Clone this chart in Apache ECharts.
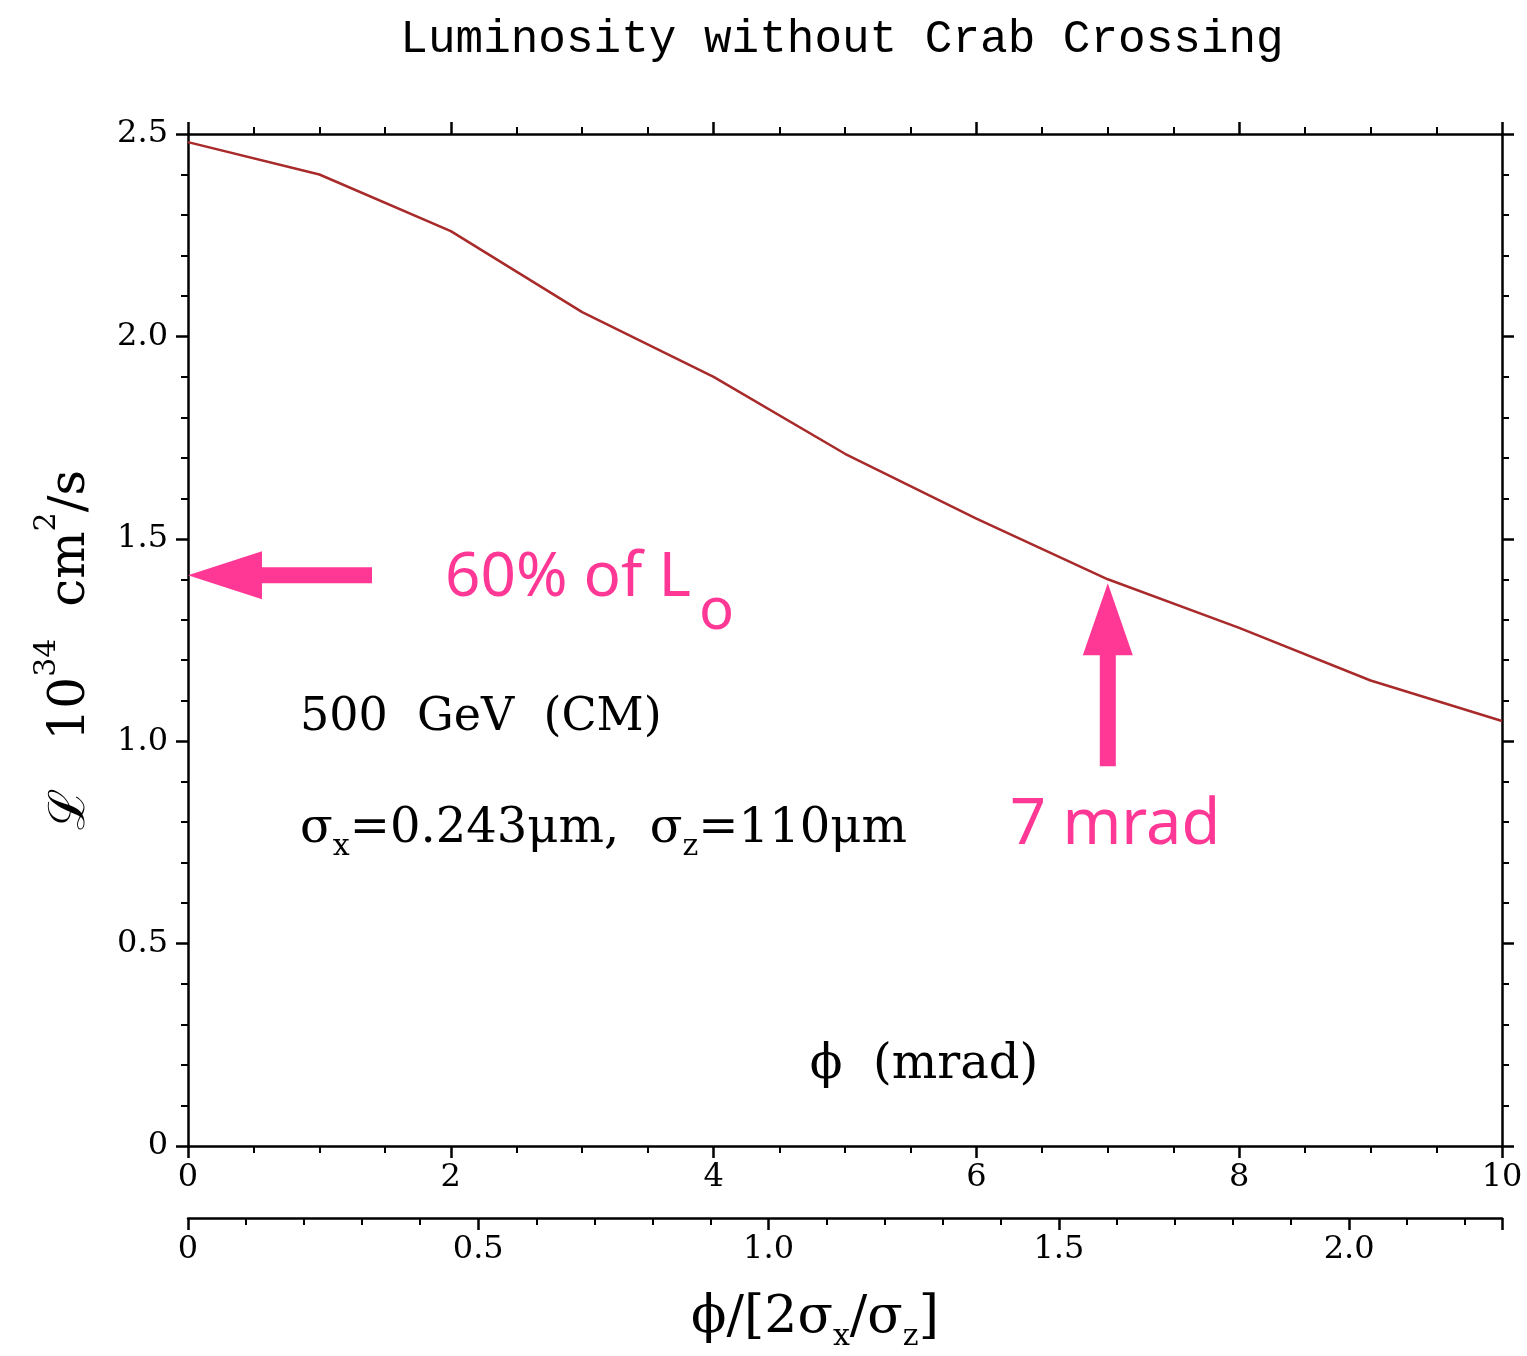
<!DOCTYPE html>
<html>
<head>
<meta charset="utf-8">
<script src="https://cdn.jsdelivr.net/npm/echarts@6/dist/echarts.min.js"></script>
<style>
html,body{margin:0;padding:0;background:#fff;}
#chart{width:1527px;height:1356px;}
</style>
</head>
<body>
<div id="chart"></div>
<script>
// ---- data ----
const phiMrad = [0, 1, 2, 3, 4, 5, 6, 7, 8, 9, 10];
const luminosity = [2.48, 2.40, 2.26, 2.06, 1.90, 1.71, 1.55, 1.40, 1.28, 1.15, 1.05];
const sigmaX = 0.243;   // um
const sigmaZ = 110;     // um
const arrowLeftPoint = [0, 1.41];   // "60% of L0" arrow tip
const arrowUpPoint = [7, 1.39];     // "7 mrad" arrow tip

// 2*sigma_x/sigma_z in mrad = 2*0.243/110*1000 = 4.418 mrad
const ratioAxisMax = 10 / (2 * sigmaX / sigmaZ * 1000);

const BLACK = '#000';
const PINK = '#ff3795';
const LINE = '#a82a2a';
const tickFont = 'DejaVu Serif';
const serif = 'DejaVu Serif';

function yFmt(v){ return v === 0 ? '0' : v.toFixed(1); }

const chart = echarts.init(document.getElementById('chart'));

const baseX = {
  type: 'value', min: 0, max: 10, interval: 2,
  axisLine: { show: true, onZero: false, lineStyle: { color: BLACK, width: 2.5 } },
  axisTick: { show: true, length: 12, lineStyle: { color: BLACK, width: 2.5 } },
  minorTick: { show: true, splitNumber: 4, length: 7, lineStyle: { color: BLACK, width: 2 } },
  splitLine: { show: false },
  minorSplitLine: { show: false }
};
const baseY = {
  type: 'value', min: 0, max: 2.5, interval: 0.5,
  axisLine: { show: true, onZero: false, lineStyle: { color: BLACK, width: 2.5 } },
  axisTick: { show: true, length: 12, lineStyle: { color: BLACK, width: 2.5 } },
  minorTick: { show: true, splitNumber: 5, length: 7, lineStyle: { color: BLACK, width: 2 } },
  splitLine: { show: false },
  minorSplitLine: { show: false }
};

const option = {
  backgroundColor: '#fff',
  animation: false,
  grid: { left: 188, right: 25, top: 134, bottom: 210, containLabel: false },
  xAxis: [
    Object.assign({}, baseX, {
      position: 'bottom',
      axisLabel: { show: true, color: BLACK, fontFamily: tickFont, fontSize: 32, margin: 16 }
    }),
    Object.assign({}, baseX, {
      position: 'top',
      axisLabel: { show: false }
    }),
    {
      type: 'value', position: 'bottom', offset: 72,
      min: 0, max: ratioAxisMax, interval: 0.5,
      axisLine: { show: true, onZero: false, lineStyle: { color: BLACK, width: 2.5 } },
      axisTick: { show: true, length: 12, lineStyle: { color: BLACK, width: 2.5 } },
      minorTick: { show: true, splitNumber: 5, length: 7, lineStyle: { color: BLACK, width: 2 } },
      splitLine: { show: false }, minorSplitLine: { show: false },
      axisLabel: {
        show: true, color: BLACK, fontFamily: tickFont, fontSize: 32, margin: 16,
        showMaxLabel: false,
        formatter: function(v){ return Math.abs(v / 0.5 - Math.round(v / 0.5)) < 1e-6 ? yFmt(v) : ''; }
      }
    }
  ],
  yAxis: [
    Object.assign({}, baseY, {
      position: 'left',
      axisLabel: { show: true, color: BLACK, fontFamily: tickFont, fontSize: 32, margin: 20, formatter: yFmt }
    }),
    Object.assign({}, baseY, {
      position: 'right',
      axisLabel: { show: false }
    })
  ],
  series: [{
    type: 'line',
    xAxisIndex: 0, yAxisIndex: 0,
    data: phiMrad.map((x, i) => [x, luminosity[i]]),
    showSymbol: false, symbol: 'none',
    lineStyle: { color: LINE, width: 2.5 },
    z: 5
  }]
};
chart.setOption(option);

// ---- annotations (positions from the axes) ----
const pL = chart.convertToPixel({ xAxisIndex: 0, yAxisIndex: 0 }, arrowLeftPoint);
const pU = chart.convertToPixel({ xAxisIndex: 0, yAxisIndex: 0 }, arrowUpPoint);

const pinkFont = '62px "Noto Sans"';
const mctx = document.createElement('canvas').getContext('2d');
mctx.font = pinkFont;
const mainPinkW = mctx.measureText('60% of L').width;

const graphics = [
  { type: 'text', x: 842, y: 40, style: {
      text: 'Luminosity without Crab Crossing', fill: BLACK,
      font: '46px "Liberation Mono"', textAlign: 'center', textVerticalAlign: 'middle' } },
  // y axis name
  { type: 'text', x: 64, y: 650, rotation: Math.PI / 2, style: {
      text: '{b|ℒ   10}{p|34}{b|  cm}{p|2}{b|/s}', fill: BLACK, textAlign: 'center', textVerticalAlign: 'middle',
      rich: {
        b: { fontFamily: serif, fontSize: 50, lineHeight: 64, verticalAlign: 'bottom', fill: BLACK },
        p: { fontFamily: serif, fontSize: 30, lineHeight: 34, verticalAlign: 'top', fill: BLACK }
      } } },
  // bottom axis name
  { type: 'text', x: 815, y: 1322, style: {
      text: '{b|ϕ/[2σ}{s|x}{b|/σ}{s|z}{b|]}', fill: BLACK, textAlign: 'center', textVerticalAlign: 'middle',
      rich: {
        b: { fontFamily: serif, fontSize: 52, lineHeight: 60, verticalAlign: 'top', fill: BLACK },
        s: { fontFamily: serif, fontSize: 30, lineHeight: 34, verticalAlign: 'bottom', fill: BLACK }
      } } },
  { type: 'text', x: 924, y: 1066, style: {
      text: 'ϕ  (mrad)', fill: BLACK, font: '48px "DejaVu Serif"', textAlign: 'center', textVerticalAlign: 'middle' } },
  { type: 'text', x: 300, y: 718, style: {
      text: '500  GeV  (CM)', fill: BLACK, font: '46px "DejaVu Serif"', textAlign: 'left', textVerticalAlign: 'middle' } },
  { type: 'text', x: 300, y: 834, style: {
      text: '{b|σ}{s|x}{b|=0.243μm,  σ}{s|z}{b|=110μm}', fill: BLACK, textAlign: 'left', textVerticalAlign: 'middle',
      rich: {
        b: { fontFamily: serif, fontSize: 48, lineHeight: 56, verticalAlign: 'top', fill: BLACK },
        s: { fontFamily: serif, fontSize: 30, lineHeight: 34, verticalAlign: 'bottom', fill: BLACK }
      } } },
  // pink left arrow
  { type: 'polygon', shape: { points: [
      [pL[0], pL[1]], [pL[0] + 74, pL[1] - 24], [pL[0] + 74, pL[1] - 8], [pL[0] + 184, pL[1] - 8],
      [pL[0] + 184, pL[1] + 8], [pL[0] + 74, pL[1] + 8], [pL[0] + 74, pL[1] + 24] ] },
    style: { fill: PINK }, z: 10 },
  { type: 'text', x: 445, y: 578, style: {
      text: '60% of L', fill: PINK, font: pinkFont, textAlign: 'left', textVerticalAlign: 'middle' } },
  { type: 'text', x: 445 + mainPinkW + 8, y: 612, style: {
      text: 'o', fill: PINK, font: '58px "Noto Sans"', textAlign: 'left', textVerticalAlign: 'middle' } },
  // pink up arrow
  { type: 'polygon', shape: { points: [
      [pU[0], pU[1]], [pU[0] + 25, pU[1] + 72], [pU[0] + 8, pU[1] + 72], [pU[0] + 8, pU[1] + 183],
      [pU[0] - 8, pU[1] + 183], [pU[0] - 8, pU[1] + 72], [pU[0] - 25, pU[1] + 72] ] },
    style: { fill: PINK }, z: 10 },
  { type: 'text', x: 1010, y: 826, style: {
      text: '7 mrad', fill: PINK, font: '63px "Noto Sans"', textAlign: 'left', textVerticalAlign: 'middle' } }
];
chart.setOption({ graphic: graphics });
</script>
</body>
</html>
